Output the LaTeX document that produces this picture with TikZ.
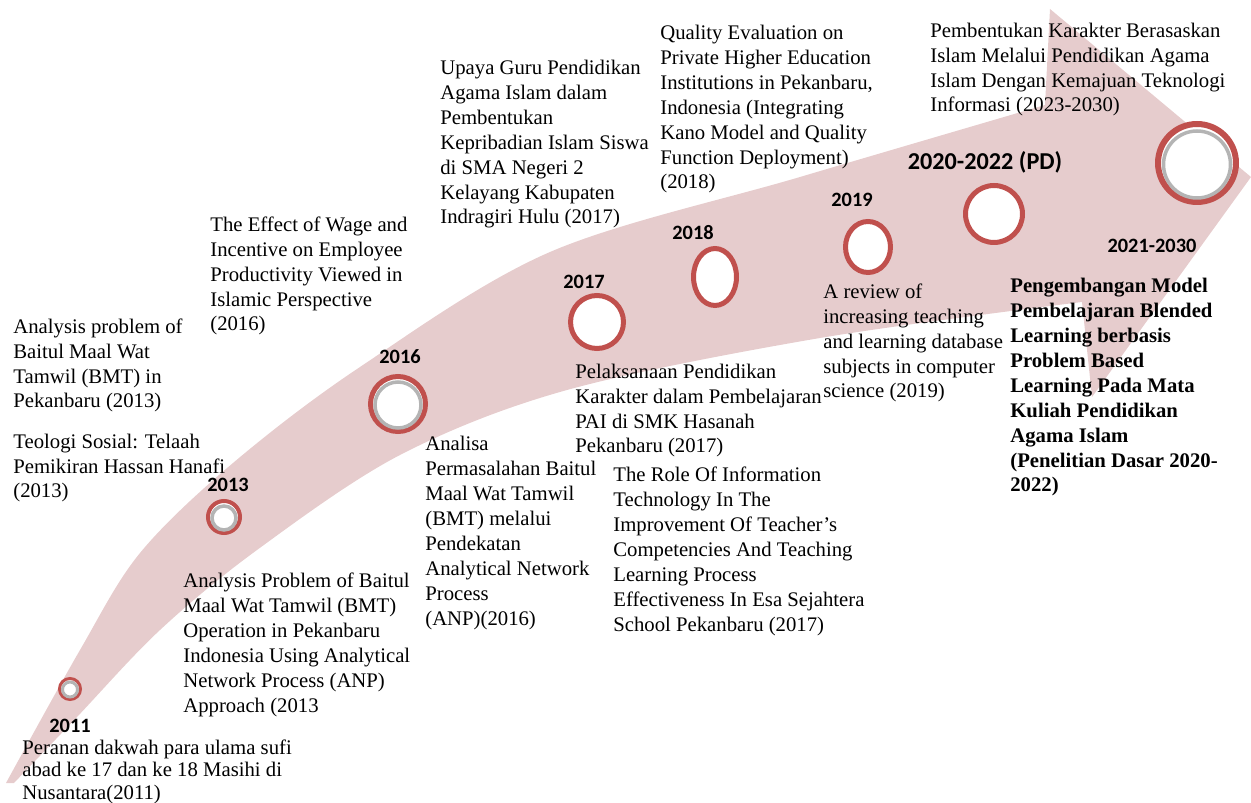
\documentclass[tikz,border=0pt]{standalone}
\usepackage{fontspec}
\setmainfont{Liberation Serif}
\newfontfamily\yearfont{Carlito}
\usetikzlibrary{shapes.geometric}
\definecolor{bandpink}{RGB}{230,204,205}
\definecolor{ringred}{RGB}{192,80,77}
\definecolor{ringgray}{RGB}{180,180,180}

\begin{document}
\begin{tikzpicture}[x=0.02cm,y=-0.02cm,
  ring/.style={ellipse,draw=ringred,fill=white,line width=0.1cm,inner sep=0pt},
  shadering/.style={draw=ringgray,line width=0.07cm},
  yr/.style={font=\yearfont\bfseries\fontsize{11.6}{14}\selectfont,inner sep=0pt},
  desc/.style={anchor=base west,align=left,inner sep=0pt,font=\fontsize{11.8}{14.2}\selectfont},
]
\useasboundingbox (0,0) rectangle (1251,803);

\fill[bandpink] plot[smooth,tension=0.55] coordinates {(6,783) (80,650) (140,553) (233,463) (360,367) (550,252) (800,177) (1045,105)}
  -- (1050,9) -- (1251,177) -- (1092,397) -- (1082,302)
  -- plot[smooth,tension=0.55] coordinates {(1082,302) (820,338) (567,390) (400,455) (257,550) (160,630) (77,717) (14,783)}
  -- cycle;

\node[ring,line width=0.06cm,minimum size=0.42cm] (c2011) at (70,689) {};
\draw[shadering,line width=0.06cm] (c2011.center) ++(0,0.5) circle (7.5);
\node[ring,line width=0.08cm,minimum size=0.64cm] (c2013) at (224,517) {};
\draw[shadering] (c2013.center) ++(0,1) circle (12);
\node[ring,minimum size=1.1cm] (c2016) at (398,404) {};
\draw[shadering] (c2016.center) ++(0,1) circle (23);
\node[ring,minimum size=1.06cm] (c2017) at (597,322) {};
\node[ring,minimum width=0.86cm,minimum height=1.14cm] (c2018) at (715,277) {};
\node[ring,minimum width=0.9cm,minimum height=1.02cm] (c2019) at (868,247) {};
\node[ring,minimum size=1.14cm] (c2020) at (994,214) {};
\node[ring,line width=0.12cm,minimum size=1.56cm] (c2021) at (1197,163) {};
\draw[shadering,line width=0.07cm] (c2021.center) ++(0,1.5) circle (33.5);

\node[yr] (y2011) at (70,726) {2011};
\node[yr] (y2013) at (228,485) {2013};
\node[yr] (y2016) at (400,357) {2016};
\node[yr] (y2017) at (584,282) {2017};
\node[yr] (y2018) at (693,233) {2018};
\node[yr] (y2019) at (852,200) {2019};
\node[yr,font=\yearfont\bfseries\fontsize{13.8}{16}\selectfont] (y2020) at (985,162) {2020-2022 (PD)};
\node[yr] (y2021) at (1152,246) {2021-2030};

\node[desc] (tBaitul) at (13,408) {Analysis problem of\\Baitul Maal Wat\\Tamwil (BMT) in\\Pekanbaru (2013)};
\node[desc] (tTeologi) at (13,498) {Teologi Sosial: Telaah\\Pemikiran Hassan Hanafi\\(2013)};
\node[desc] (tWage) at (210,331) {The Effect of Wage and\\Incentive on Employee\\Productivity Viewed in\\Islamic Perspective\\(2016)};
\node[desc] (tUpaya) at (440,224) {Upaya Guru Pendidikan\\Agama Islam dalam\\Pembentukan\\Kepribadian Islam Siswa\\di SMA Negeri 2\\Kelayang Kabupaten\\Indragiri Hulu (2017)};
\node[desc] (tQuality) at (660,189) {Quality Evaluation on\\Private Higher Education\\Institutions in Pekanbaru,\\Indonesia (Integrating\\Kano Model and Quality\\Function Deployment)\\(2018)};
\node[desc] (tKarakter) at (930,112) {Pembentukan Karakter Berasaskan\\Islam Melalui Pendidikan Agama\\Islam Dengan Kemajuan Teknologi\\Informasi (2023-2030)};
\node[desc,font=\bfseries\fontsize{11.8}{14.2}\selectfont] (tBlended) at (1010,492) {Pengembangan Model\\Pembelajaran Blended\\Learning berbasis\\Problem Based\\Learning Pada Mata\\Kuliah Pendidikan\\Agama Islam\\(Penelitian Dasar 2020-\\2022)};
\node[desc] (tReview) at (823,398) {A review of\\increasing teaching\\and learning database\\subjects in computer\\science (2019)};
\node[desc] (tPelaksanaan) at (575,453) {Pelaksanaan Pendidikan\\Karakter dalam Pembelajaran\\PAI di SMK Hasanah\\Pekanbaru (2017)};
\node[desc] (tRole) at (613,631) {The Role Of Information\\Technology In The\\Improvement Of Teacher’s\\Competencies And Teaching\\Learning Process\\Effectiveness In Esa Sejahtera\\School Pekanbaru (2017)};
\node[desc] (tAnalisa) at (425,625) {Analisa\\Permasalahan Baitul\\Maal Wat Tamwil\\(BMT) melalui\\Pendekatan\\Analytical Network\\Process\\(ANP)(2016)};
\node[desc] (tOperation) at (183,712) {Analysis Problem of Baitul\\Maal Wat Tamwil (BMT)\\Operation in Pekanbaru\\Indonesia Using Analytical\\Network Process (ANP)\\Approach (2013};
\node[desc,font=\fontsize{11.8}{12.8}\selectfont] (tPeranan) at (22,799) {Peranan dakwah para ulama sufi\\abad ke 17 dan ke 18 Masihi di\\Nusantara(2011)};
\end{tikzpicture}
\end{document}
